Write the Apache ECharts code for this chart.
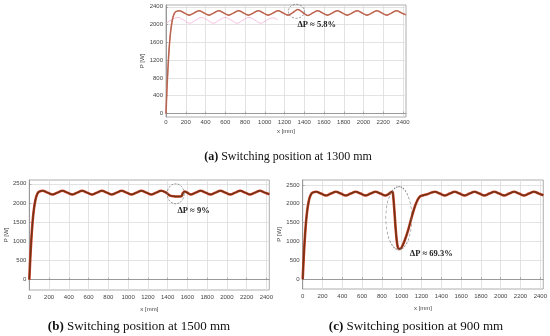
<!DOCTYPE html>
<html><head><meta charset="utf-8">
<script src="https://cdn.jsdelivr.net/npm/echarts@6/dist/echarts.min.js"></script>
<style>html,body{margin:0;padding:0;background:#fff}#c{width:550px;height:336px}</style>
</head><body><div id="c"></div>
<script>
// ---- data (x in mm, P in W) ----
const seriesA = [[0,0],[10,560],[20,1020],[30,1400],[40,1690],[50,1900],[60,2050],[70,2160],[85,2250],[100,2290],[135,2310],[185,2260],[235,2212],[285,2262],[335,2310],[385,2261],[435,2212],[485,2262],[535,2310],[585,2261],[635,2212],[685,2262],[735,2310],[785,2261],[835,2212],[885,2262],[935,2310],[985,2261],[1035,2212],[1085,2262],[1135,2310],[1185,2261],[1235,2212],[1285,2270],[1335,2340],[1385,2270],[1435,2205],[1485,2258],[1535,2310],[1585,2261],[1635,2212],[1685,2262],[1735,2310],[1785,2261],[1835,2212],[1885,2262],[1935,2310],[1985,2261],[2035,2212],[2085,2262],[2135,2310],[2185,2261],[2235,2212],[2285,2262],[2335,2310],[2385,2261],[2430,2218]];
const ghostA = [[0,2030],[60,2110],[120,2160],[180,2100],[240,2030],[300,2100],[360,2160],[420,2100],[480,2030],[540,2100],[600,2160],[660,2100],[720,2030],[780,2100],[840,2160],[900,2100],[960,2030],[1020,2100],[1080,2150],[1130,2110]];
const seriesB = [[0,0],[10,560],[20,1020],[30,1400],[40,1690],[50,1900],[60,2050],[70,2160],[85,2255],[100,2295],[135,2320],[185,2270],[235,2220],[285,2270],[335,2320],[385,2270],[435,2220],[485,2270],[535,2320],[585,2270],[635,2220],[685,2270],[735,2320],[785,2270],[835,2220],[885,2270],[935,2320],[985,2270],[1035,2220],[1085,2270],[1135,2320],[1185,2270],[1235,2220],[1285,2270],[1335,2320],[1385,2272],[1420,2200],[1460,2175],[1500,2170],[1540,2178],[1555,2260],[1575,2300],[1600,2268],[1635,2220],[1685,2270],[1735,2320],[1785,2270],[1835,2220],[1885,2270],[1935,2320],[1985,2270],[2035,2220],[2085,2270],[2135,2320],[2185,2270],[2235,2220],[2285,2270],[2335,2320],[2385,2270],[2430,2226]];
const seriesC = [[0,0],[10,560],[20,1020],[30,1400],[40,1690],[50,1900],[60,2050],[70,2160],[85,2255],[100,2295],[135,2320],[185,2270],[235,2220],[285,2270],[335,2320],[385,2270],[435,2220],[485,2270],[535,2320],[585,2270],[635,2220],[685,2270],[735,2320],[785,2270],[835,2220],[870,2262],[900,2320],[910,2300],[925,1850],[940,1300],[955,920],[970,805],[985,805],[1010,900],[1040,1100],[1065,1300],[1100,1640],[1132,1920],[1160,2100],[1185,2195],[1220,2225],[1260,2255],[1300,2295],[1335,2320],[1385,2270],[1435,2220],[1485,2270],[1535,2320],[1585,2270],[1635,2220],[1685,2270],[1735,2320],[1785,2270],[1835,2220],[1885,2270],[1935,2320],[1985,2270],[2035,2220],[2085,2270],[2135,2320],[2185,2270],[2235,2220],[2285,2270],[2335,2320],[2385,2270],[2430,2226]];
const xTicks = [0,200,400,600,800,1000,1200,1400,1600,1800,2000,2200,2400];
const yTicksA = [0,400,800,1200,1600,2000,2400];
const yTicksBC = [0,500,1000,1500,2000,2500];
const notes = [
  {ellipse:[1320,2298], size:[16,14], text:'ΔP ≈ 5.8%', at:[1331,1989]},
  {ellipse:[1482,2240], size:[17,20], text:'ΔP ≈ 9%', at:[1500,1805]},
  {ellipse:[971,1618], size:[26,63], text:'ΔP ≈ 69.3%', at:[1082,671]}
];
const captions = [
  {tag:'(a)', text:' Switching position at 1300 mm'},
  {tag:'(b)', text:' Switching position at 1500 mm'},
  {tag:'(c)', text:' Switching position at 900 mm'}
];

const chart = echarts.init(document.getElementById('c'), null, {renderer:'canvas'});
const grids = [
  {left:166, top:5, width:240, height:112},
  {left:29.3, top:180, width:240, height:110},
  {left:302.7, top:180, width:241.5, height:109}
];
const yRanges = [[-80,2440],[-270,2600],[-260,2630]];
const yTicks = [yTicksA, yTicksBC, yTicksBC];
const labelStyle = {fontFamily:'Liberation Sans', fontSize:6, color:'#444', formatter:v=>String(v)};
const xAxes = [], yAxes = [], series = [];
grids.forEach((g,i)=>{
  xAxes.push({gridIndex:i, type:'value', min:0, max:2430,
    axisLine:{show:true, lineStyle:{color:'#888', width:0.8}},
    axisTick:{show:true, inside:true, length:2, customValues:xTicks, lineStyle:{color:'#888', width:0.6}},
    axisLabel:Object.assign({customValues:xTicks, margin:i===0?2.5:4}, labelStyle),
    splitLine:{show:true, lineStyle:{color:'#dcdcdc', width:0.8}},
    name:'x [mm]', nameLocation:'middle', nameGap:i===0?11:16,
    nameTextStyle:{fontFamily:'Liberation Sans', fontSize:6, color:'#444'}});
  yAxes.push({gridIndex:i, type:'value', min:yRanges[i][0], max:yRanges[i][1],
    axisLine:{show:true, lineStyle:{color:'#888', width:0.8}},
    axisTick:{show:true, inside:true, length:2, customValues:yTicks[i], lineStyle:{color:'#888', width:0.6}},
    axisLabel:Object.assign({customValues:yTicks[i], margin:3}, labelStyle),
    splitLine:{show:true, lineStyle:{color:'#dcdcdc', width:0.8}},
    name:'P [W]', nameLocation:'middle', nameGap:i===0?20:19, nameRotate:90,
    nameTextStyle:{fontFamily:'Liberation Sans', fontSize:6, color:'#444'}});
});
grids.forEach(g=>{g.show=true; g.borderColor='#999'; g.borderWidth=0.8; g.backgroundColor='#fff';});
series.push({type:'line', xAxisIndex:0, yAxisIndex:0, data:ghostA, smooth:0.4, showSymbol:false,
  lineStyle:{color:'#f4a8d8', width:0.9, opacity:0.8}, z:1, silent:true});
const data = [seriesA, seriesB, seriesC];
data.forEach((d,i)=>{
  series.push({type:'line', xAxisIndex:i, yAxisIndex:i, data:d, smooth:0.35, showSymbol:false,
    lineStyle:{color: i===0?'#e07a6a':'#d8432f', width: i===0?1.6:2.6}, z:2, silent:true});
  series.push({type:'line', xAxisIndex:i, yAxisIndex:i, data:d, smooth:0.35, showSymbol:false,
    lineStyle:{color: i===0?'#a0604a':'#6e3414', width: i===0?0.9:1.5}, z:3, silent:true,
    markPoint:{silent:true, data:[
      {coord:notes[i].ellipse, symbol:'circle', symbolSize:notes[i].size,
       itemStyle:{color:'rgba(0,0,0,0)', borderColor:'#777', borderWidth:0.8, borderType:[2,1.5]}, label:{show:false}},
      {coord:notes[i].at, symbol:'circle', symbolSize:0.01, itemStyle:{color:'rgba(0,0,0,0)'},
       label:{show:true, position:'right', distance:0, formatter:notes[i].text,
        fontFamily:'Liberation Serif', fontWeight:'bold', fontSize:8.5, color:'#222'}}
    ]}});
});
const titles = [
  {left:283, top:146},
  {left:134, top:315},
  {left:411, top:315}
].map((t,i)=>({left:t.left, top:t.top, textAlign:'center',
  text:'{b|'+captions[i].tag+'}{n|'+captions[i].text+'}',
  textStyle:{fontWeight:'normal', rich:{
    b:{fontFamily:'Liberation Serif', fontWeight:'bold', fontSize:i===0?12:13, color:'#111'},
    n:{fontFamily:'Liberation Serif', fontWeight:'normal', fontSize:i===0?12:13, color:'#111'}}}}));
chart.setOption({animation:false, title:titles, grid:grids, xAxis:xAxes, yAxis:yAxes, series:series});
</script></body></html>
